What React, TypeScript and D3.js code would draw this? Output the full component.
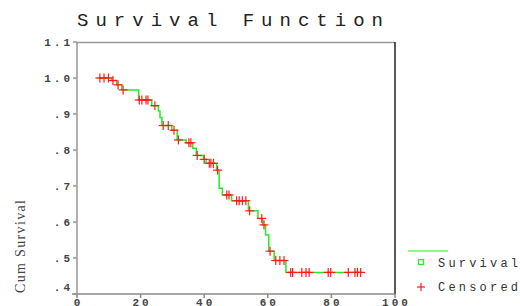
import React from "react";
import * as d3 from "d3";

// Kaplan-Meier estimate
const eventTimes = [10.9, 12.5, 14.1, 19.4, 23.5, 25.6, 26.1, 26.7, 29.8, 31.5, 34.3, 36.4, 37.5, 39.8, 40.6, 43.9, 44.7, 45.7, 48.6, 53.9, 56.9, 58.4, 59.3, 60.3, 62.0, 65.7];
const eventSurv = [0.993, 0.981, 0.967, 0.939, 0.923, 0.908, 0.89, 0.868, 0.855, 0.828, 0.82, 0.805, 0.785, 0.774, 0.763, 0.744, 0.694, 0.675, 0.659, 0.631, 0.61, 0.592, 0.564, 0.519, 0.493, 0.46];
const startTime = 6.4;
const endTime = 89.5;
const censoredTimes = [7.2, 8.5, 9.9, 11.3, 12.9, 14.5, 19.6, 20.4, 21.7, 22.3, 24.5, 27.1, 28.7, 30.5, 31.9, 35.2, 35.8, 37.8, 40.0, 41.6, 42.1, 42.9, 44.2, 47.1, 47.8, 50.2, 51.0, 52.0, 53.1, 54.3, 58.1, 58.8, 60.7, 62.5, 63.8, 65.1, 67.2, 67.8, 70.7, 72.0, 73.0, 79.0, 79.8, 85.3, 87.4, 88.2, 89.2];

const xTicks = [0, 20, 40, 60, 80, 100];
const yTicks = [0.4, 0.5, 0.6, 0.7, 0.8, 0.9, 1.0, 1.1];
const yTickLabels = [".4", ".5", ".6", ".7", ".8", ".9", "1.0", "1.1"];

const W = 520;
const H = 306;
const mono = "'Liberation Mono', 'DejaVu Sans Mono', monospace";

// survival just after time t
const survAt = (t: number) => {
  let s = 1;
  eventTimes.forEach((e, i) => {
    if (e <= t) s = eventSurv[i];
  });
  return s;
};

export default function App() {
  const x = d3.scaleLinear().domain([0, 100]).range([77, 395]);
  const y = d3.scaleLinear().domain([0.4, 1.1]).range([294, 42]);

  const pts: [number, number][] = [[startTime, 1]];
  eventTimes.forEach((t, i) => pts.push([t, eventSurv[i]]));
  pts.push([endTime, eventSurv[eventSurv.length - 1]]);

  const line = d3
    .line<[number, number]>()
    .x((d) => x(d[0]))
    .y((d) => y(d[1]))
    .curve(d3.curveStepAfter);

  const cross = (cx: number, cy: number, r: number, key?: any) => (
    <g key={key} stroke="#ff1a1a" strokeWidth={1.2}>
      <line x1={cx - r} x2={cx + r} y1={cy} y2={cy} />
      <line x1={cx} x2={cx} y1={cy - r} y2={cy + r} />
    </g>
  );

  return (
    <div style={{ position: "fixed", left: 0, top: 0 }}>
      <svg width={W} height={H} style={{ display: "block", background: "#fff" }}>
        <text x={77} y={26} fontFamily={mono} fontSize={19} fill="#222" textLength={306} lengthAdjust="spacing">
          Survival Function
        </text>

        {/* frame */}
        <line x1={77} x2={395} y1={42.5} y2={42.5} stroke="#999" strokeWidth={1.5} />
        <line x1={395} x2={395} y1={42} y2={294} stroke="#222" strokeWidth={1.5} />
        <line x1={77} x2={77} y1={42} y2={294} stroke="#999" strokeWidth={1.5} />
        <line x1={72} x2={395} y1={294} y2={294} stroke="#888" strokeWidth={1.5} />

        {yTicks.map((t, i) => (
          <g key={"y" + i}>
            <line x1={73} x2={77} y1={y(t)} y2={y(t)} stroke="#999" strokeWidth={1.5} />
            <text
              x={73}
              y={y(t) + (i === 0 ? -3 : 3.5)}
              textAnchor="end"
              fontFamily={mono}
              fontSize={11}
              fontWeight="bold"
              fill="#444"
              letterSpacing={3}
            >
              {yTickLabels[i]}
            </text>
          </g>
        ))}

        {xTicks.map((t) => (
          <g key={"x" + t}>
            <line x1={x(t)} x2={x(t)} y1={294} y2={298} stroke="#888" strokeWidth={1.5} />
            <text
              x={x(t) + 1.5}
              y={306}
              textAnchor="middle"
              fontFamily={mono}
              fontSize={11}
              fontWeight="bold"
              fill="#444"
              letterSpacing={3}
            >
              {t}
            </text>
          </g>
        ))}

        <text
          transform="translate(25,246.5) rotate(-90)"
          textAnchor="middle"
          fontFamily="'Liberation Serif', serif"
          fontSize={14}
          fill="#444"
          textLength={93}
          lengthAdjust="spacing"
        >
          Cum Survival
        </text>

        <path d={line(pts) || ""} fill="none" stroke="#22ee22" strokeWidth={1.5} />
        {censoredTimes.map((t, i) => cross(x(t), y(survAt(t)), 4.5, "c" + i))}

        {/* legend */}
        <line x1={408} x2={448} y1={251} y2={251} stroke="#22ee22" strokeWidth={1.2} />
        <rect x={418.5} y={259.5} width={5} height={5} fill="#fff" stroke="#22ee22" strokeWidth={1.3} />
        <text x={438} y={267} fontFamily={mono} fontSize={12} fill="#333" textLength={80} lengthAdjust="spacing">
          Survival
        </text>
        {cross(421, 287, 4, "leg")}
        <text x={438} y={291} fontFamily={mono} fontSize={12} fill="#333" textLength={80} lengthAdjust="spacing">
          Censored
        </text>
      </svg>
    </div>
  );
}
